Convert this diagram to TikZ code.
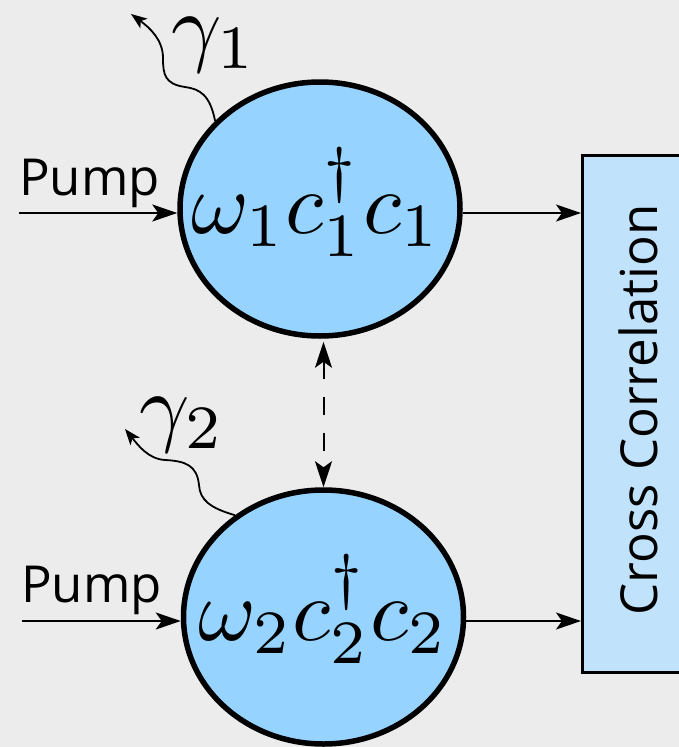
\documentclass[tikz,border=0pt]{standalone}
\usepackage[no-math]{fontspec}
\newfontfamily\osans{Open Sans}
\usetikzlibrary{arrows.meta,shapes.geometric}
\definecolor{bg}{RGB}{236,236,236}
\definecolor{cfill}{RGB}{150,212,255}
\definecolor{bfill}{RGB}{193,226,251}
\begin{document}
\begin{tikzpicture}[x=1pt,y=-1pt,
  mode/.style={ellipse, draw, fill=cfill, line width=5.5pt, minimum width=280pt, minimum height=254pt, inner sep=0pt},
  ccbox/.style={rectangle, draw, fill=bfill, line width=3pt, minimum width=150pt, minimum height=517pt, inner sep=0pt},
  eq/.style={scale=8.8, anchor=base, inner sep=0pt},
  lbl/.style={font=\osans\fontsize{51}{57}\selectfont, inner sep=0pt},
  arr/.style={line width=2pt, -{Stealth[length=25pt,width=17pt,inset=6pt]}},
  darr/.style={line width=2pt, dash pattern=on 18pt off 18pt, {Stealth[length=26pt,width=17pt,inset=6pt]}-{Stealth[length=26pt,width=17pt,inset=6pt]}},
  warr/.style={line width=1.8pt, -{Stealth[length=16pt,width=12pt,inset=4pt]}}]
\useasboundingbox (0,0) rectangle (679,747);
\fill[bg] (0,0) rectangle (679,747);
\clip (0,0) rectangle (679,747);

% box
\node[ccbox, anchor=north west] (cc) at (581,154) {};
\node[lbl, rotate=90, anchor=base] (cctext) at (657,410) {Cross Correlation};

% modes
\node[mode] (c1) at (320,209) {};
\node[mode] (c2) at (323.5,617) {};
\node[eq] (e1) at (316,233) {$\omega_1 c_1^\dagger c_1$};
\node[eq] (e2) at (323,640) {$\omega_2 c_2^\dagger c_2$};

% pumps
\node[lbl, anchor=base west] (p1) at (19,195) {Pump};
\node[lbl, anchor=base west] (p2) at (21,602) {Pump};
\coordinate (s1) at (19,213);
\coordinate (s2) at (22,621);
\draw[arr] (s1) -- (s1 -| c1.west);
\draw[arr] (s2) -- (s2 -| c2.west);

% outputs
\draw[arr] (c1.east |- s1) -- (cc.west |- s1);
\draw[arr] (c2.east |- s2) -- (cc.west |- s2);

% coupling
\draw[darr, shorten <=3pt] (c2.north |- c1.south) -- (c2.north);

% losses
\coordinate (t1) at (131,14);
\coordinate (t2) at (125,429);
\draw[warr] (c1.140) .. controls (210,95) and (200,89) .. (185,87)
  .. controls (165,84) and (163,75) .. (163,58)
  .. controls (163,40) and (150,28) .. (t1);
\draw[warr] (c2.131) .. controls (210,508) and (200,500) .. (199,485)
  .. controls (197,465) and (185,461) .. (165,460)
  .. controls (148,459) and (138,445) .. (t2);
\node[eq] (g1) at (214,55) {$\gamma_1$};
\node[eq] (g2) at (182,435) {$\gamma_2$};
\end{tikzpicture}
\end{document}
